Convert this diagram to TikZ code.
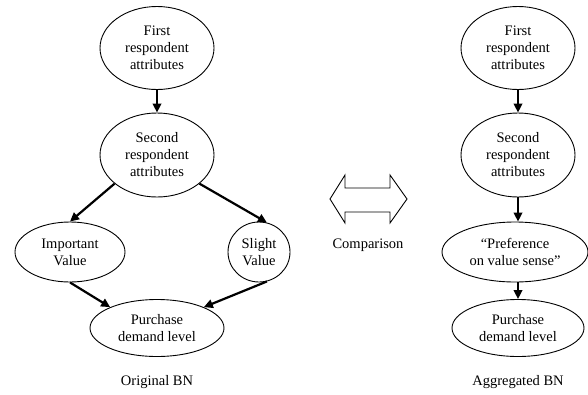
\documentclass[tikz,border=0pt]{standalone}
\usepackage{fontspec}
\setmainfont{Liberation Serif}
\usepackage{tikz}
\usetikzlibrary{arrows.meta,shapes.geometric,positioning}

\tikzset{
  bnnode/.style={draw, ellipse, line width=0.9pt, inner sep=0pt, align=center,
    font=\fontsize{14.5}{17}\selectfont},
  bnlink/.style={line width=2.2pt, -{Triangle[length=9pt,width=8.5pt]}},
  caption/.style={font=\fontsize{14.5}{17}\selectfont}
}

\begin{document}
\begin{tikzpicture}[x=1pt, y=-1pt]
\useasboundingbox (0,0) rectangle (588,394);

% Original network
\node[bnnode, minimum width=114, minimum height=83] (first) at (157,48) {First\\respondent\\attributes};
\node[bnnode, minimum width=114, minimum height=84] (second) at (157,155) {Second\\respondent\\attributes};
\node[bnnode, minimum width=110, minimum height=60] (important) at (70,252) {Important\\Value};
\node[bnnode, minimum width=62, minimum height=60] (slight) at (259,252) {Slight\\Value};
\node[bnnode, minimum width=134, minimum height=57] (purchase) at (157,328) {Purchase\\demand level};

\draw[bnlink] (first) -- (second);
\draw[bnlink] (second.214) -- (important.north);
\draw[bnlink] (second.-34) -- (slight.75);
\draw[bnlink] (important.south) -- (purchase.156);
\draw[bnlink] (slight.-75) -- (purchase.24);

\node[caption] (orig) at (157,382) {Original BN};

% Comparison arrow
\draw[line width=0.9pt] (330,199) -- (345,175) -- (345,188) -- (390,188) -- (390,175) -- (407,199)
  -- (390,223) -- (390,212) -- (345,212) -- (345,223) -- cycle;
\node[caption] (cmp) at (368,245) {Comparison};

% Aggregated network
\node[bnnode, minimum width=114, minimum height=83] (afirst) at (518,48) {First\\respondent\\attributes};
\node[bnnode, minimum width=114, minimum height=84] (asecond) at (518,155) {Second\\respondent\\attributes};
\node[bnnode, minimum width=146, minimum height=60] (pref) at (515,252) {“Preference\\on value sense”};
\node[bnnode, minimum width=132, minimum height=57] (apurchase) at (518,328) {Purchase\\demand level};

\draw[bnlink] (afirst) -- (asecond);
\draw[bnlink] (asecond.south) -- (asecond.south |- pref.north);
\draw[bnlink] (pref.south -| apurchase.north) -- (apurchase.north);

\node[caption] (aggr) at (518,382) {Aggregated BN};
\end{tikzpicture}
\end{document}
